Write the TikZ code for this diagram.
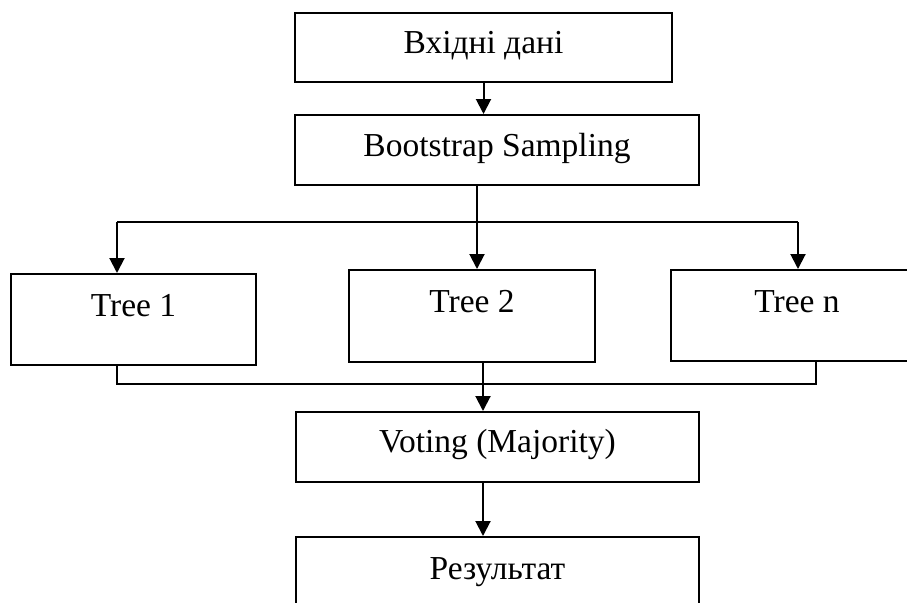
\documentclass[tikz,border=0pt]{standalone}
\usepackage{fontspec}
\setmainfont{Liberation Serif}
\usetikzlibrary{arrows.meta}
\begin{document}
\begin{tikzpicture}[x=1pt,y=-1pt,
  box/.style={draw=black, line width=2pt, rectangle, inner sep=0pt},
  lbl/.style={anchor=base, inner sep=0pt, font=\fontsize{33.5}{40}\selectfont},
  link/.style={line width=2pt},
  arr/.style={link, -{Triangle[width=15pt,length=15pt]}}]
\useasboundingbox (0,0) rectangle (907,602);
\clip (0,0) rectangle (907,602);

% boxes
\node[box, minimum width=377pt, minimum height=69pt] (in)   at (483.5,47.5) {};
\node[box, minimum width=404pt, minimum height=70pt] (boot) at (497,150) {};
\node[box, minimum width=245pt, minimum height=91pt] (t1)   at (133.5,319.5) {};
\node[box, minimum width=246pt, minimum height=92pt] (t2)   at (472,316) {};
\node[box, minimum width=252pt, minimum height=91pt] (tn)   at (797,315.5) {};
\node[box, minimum width=403pt, minimum height=70pt] (vote) at (497.5,447) {};
\node[box, minimum width=403pt, minimum height=70pt] (res)  at (497.5,572) {};

% labels, set near the top of each box
\node[lbl] (inT)   at ([yshift=-41pt]in.north)   {Вхідні дані};
\node[lbl] (bootT) at ([yshift=-42pt]boot.north) {Bootstrap Sampling};
\node[lbl] (t1T)   at ([yshift=-43pt]t1.north)   {Tree 1};
\node[lbl] (t2T)   at ([yshift=-43pt]t2.north)   {Tree 2};
\node[lbl] (tnT)   at ([yshift=-43pt]tn.north)   {Tree n};
\node[lbl] (voteT) at ([yshift=-41pt]vote.north) {Voting (Majority)};
\node[lbl] (resT)  at ([yshift=-43pt]res.north)  {Результат};

% bus points
\coordinate (splitL) at (117,222);
\coordinate (splitM) at (477,222);
\coordinate (splitR) at (798,222);
\coordinate (joinL)  at (117,384);
\coordinate (joinM)  at (483,384);
\coordinate (joinR)  at (816,384);

% connectors
\draw[arr] (in.south) -- (in.south |- boot.north);
\draw[arr] (splitM |- boot.south) -- (splitM |- t2.north);
\draw[link] (splitL) -- (splitR);
\draw[arr] (splitL) -- (splitL |- t1.north);
\draw[arr] (splitR) -- (splitR |- tn.north);
\draw[link] (joinL |- t1.south) -- (joinL) -- (joinR) -- (joinR |- tn.south);
\draw[arr] (joinM |- t2.south) -- (joinM |- vote.north);
\draw[arr] (joinM |- vote.south) -- (joinM |- res.north);
\end{tikzpicture}
\end{document}
